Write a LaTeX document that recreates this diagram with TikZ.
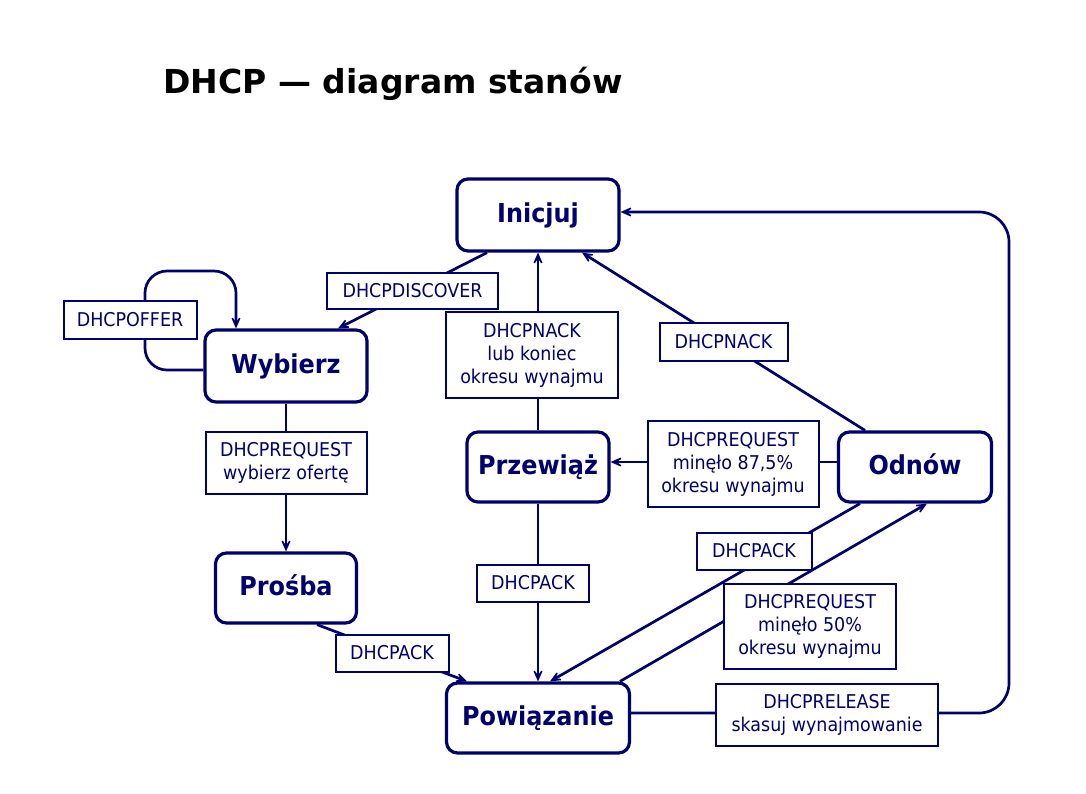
\documentclass[tikz,border=0pt]{standalone}
\usepackage{fontspec}
\setmainfont{DejaVu Sans}[FakeStretch=0.92]
\newfontfamily\titlefont{DejaVu Sans}
\usetikzlibrary{arrows.meta}
\definecolor{navy}{RGB}{0,0,110}
\begin{document}
\begin{tikzpicture}[x=1pt,y=-1pt,
  state/.style={draw=navy, line width=3.2pt, rounded corners=11pt, fill=white, text=navy,
    font=\fontsize{26}{30}\selectfont\bfseries, inner sep=0pt, text height=19pt, text depth=5pt},
  lbl/.style={draw=navy, line width=2pt, fill=white, text=navy, align=center, inner sep=0pt,
    font=\fontsize{19}{23}\selectfont},
  conn/.style={draw=navy, line width=2.7pt},
  arr/.style={conn, -{Stealth[length=18pt,width=16pt,inset=12pt]}}]
\fill[white] (0,0) rectangle (1086,793);
\useasboundingbox (0,0) rectangle (1086,793);

\node[anchor=base west, font=\titlefont\fontsize{33}{40}\selectfont\bfseries] (title) at (160,93) {DHCP — diagram stanów};

% states
\node[state, minimum width=162, minimum height=72] (ini) at (538,215) {Inicjuj};
\node[state, minimum width=162, minimum height=72] (wyb) at (286,366) {Wybierz};
\node[state, minimum width=141, minimum height=70] (pro) at (286,588) {Prośba};
\node[state, minimum width=142, minimum height=70] (prz) at (538,467) {Przewiąż};
\node[state, minimum width=153, minimum height=70] (odn) at (915,467) {Odnów};
\node[state, minimum width=183, minimum height=70] (pow) at (538,718) {Powiązanie};

% waypoints
\coordinate (loopL) at (145,271);
\coordinate (relA) at (1009,713);
\coordinate (relB) at (1009,212);

% connectors
\draw[arr] ([xshift=-51]ini.south) -- node[lbl, minimum width=171, minimum height=36] (ldisc) {DHCPDISCOVER} ([xshift=52]wyb.north);

\draw[arr, rounded corners=22pt] ([yshift=-4]wyb.west) -| (loopL) -| ([xshift=-50]wyb.north);
\node[lbl, minimum width=133, minimum height=38] (loffer) at (130,320) {DHCPOFFER};

\draw[arr] (wyb.south) -- node[lbl, pos=0.4, minimum width=161, minimum height=62] (lreq1) {DHCPREQUEST\\wybierz ofertę} (pro.north);

\draw[arr] ([xshift=31]pro.south) -- node[lbl, minimum width=113, minimum height=37] (lack1) {DHCPACK} ([xshift=-71]pow.north);

\draw[arr] (prz.north) -- (ini.south);
\node[lbl, minimum width=172, minimum height=86] (lnack1) at (532,355) {DHCPNACK\\lub koniec\\okresu wynajmu};

\draw[arr] ([xshift=-50]odn.north) -- node[lbl, minimum width=128, minimum height=38] (lnack2) {DHCPNACK} ([xshift=44]ini.south);

\draw[arr] ([yshift=5]odn.west) -- ([yshift=5]prz.east);
\node[lbl, minimum width=171, minimum height=86] (lreq2) at (733,464) {DHCPREQUEST\\minęło 87,5\%\\okresu wynajmu};

\draw[arr] ([xshift=82]pow.north) -- ([xshift=12]odn.south);
\draw[arr] ([xshift=-55]odn.south) -- ([xshift=12]pow.north);
\node[lbl, minimum width=115, minimum height=37] (lack2) at (754,551) {DHCPACK};
\node[lbl, minimum width=172, minimum height=85] (lreq3) at (810,626) {DHCPREQUEST\\minęło 50\%\\okresu wynajmu};

\draw[arr] (prz.south) -- (pow.north);
\node[lbl, minimum width=112, minimum height=37] (lack3) at (533,583) {DHCPACK};

\draw[arr, rounded corners=30pt] ([yshift=5]pow.east) -- (relA) -- (relB) -- ([yshift=3]ini.east);
\node[lbl, minimum width=222, minimum height=62] (lrel) at (827,715) {DHCPRELEASE\\skasuj wynajmowanie};
\end{tikzpicture}
\end{document}
